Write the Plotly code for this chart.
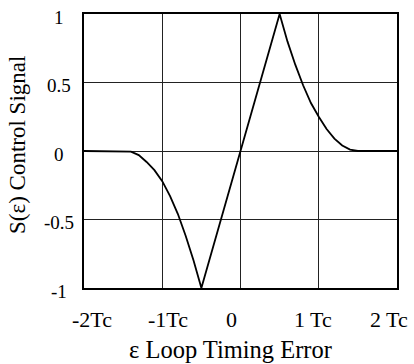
import plotly.graph_objects as go

# Loop timing error (in chip periods Tc) and discriminator output S(eps)
eps = [-2.0, -1.9, -1.8, -1.7, -1.6, -1.5, -1.4, -1.3, -1.2, -1.1, -1.0,
       -0.9, -0.8, -0.7, -0.6, -0.5, -0.4, -0.3, -0.2, -0.1, 0.0,
       0.1, 0.2, 0.3, 0.4, 0.5, 0.6, 0.7, 0.8, 0.9, 1.0,
       1.1, 1.2, 1.3, 1.4, 1.5, 1.6, 1.7, 1.8, 1.9, 2.0]
s_eps = [0.0, 0.0, 0.0, 0.0, 0.0, 0.0, -0.005, -0.03, -0.08, -0.14, -0.22,
         -0.33, -0.46, -0.62, -0.80, -1.0, -0.8, -0.6, -0.4, -0.2, 0.0,
         0.2, 0.4, 0.6, 0.8, 1.0, 0.80, 0.63, 0.48, 0.35, 0.25,
         0.16, 0.09, 0.04, 0.01, 0.0, 0.0, 0.0, 0.0, 0.0, 0.0]

# grid positions
x_grid = [-2, -1, 0, 1, 2]
y_grid = [-1, -0.5, 0, 0.5, 1]

# tick labels and where they sit
x_tick_text = ["-2Tc", "-1Tc", "0", "1 Tc", "2 Tc"]
x_tick_pos = [-1.90, -0.93, -0.11, 0.93, 1.90]
y_tick_text = ["-1", "-0.5", "0", "0.5", "1"]
y_tick_pos = [-1, -0.5, 0, 0.5, 1]

FONT = "Liberation Serif, Times New Roman, serif"

fig = go.Figure()
fig.add_trace(go.Scatter(x=eps, y=s_eps, mode="lines",
                         line=dict(color="black", width=1.8),
                         hoverinfo="skip", showlegend=False))

annotations = []
for t, p in zip(x_tick_text, x_tick_pos):
    annotations.append(dict(x=p, y=-0.116, xref="x", yref="paper", text=t,
                            showarrow=False, xanchor="center", yanchor="middle",
                            font=dict(family=FONT, size=22, color="black")))
for t, p in zip(y_tick_text, y_tick_pos):
    annotations.append(dict(x=-0.08, y=p, xref="paper", yref="y", text=t,
                            showarrow=False, xanchor="center", yanchor="middle",
                            yshift=-3,
                            font=dict(family=FONT, size=19, color="black")))
annotations.append(dict(x=0.468, y=-0.225, xref="paper", yref="paper",
                        text="ε Loop Timing Error", showarrow=False,
                        xanchor="center", yanchor="middle",
                        font=dict(family=FONT, size=24.5, color="black")))
annotations.append(dict(x=-0.211, y=0.522, xref="paper", yref="paper",
                        text="S(ε) Control Signal", showarrow=False, textangle=-90,
                        xanchor="center", yanchor="middle",
                        font=dict(family=FONT, size=23, color="black")))

fig.update_layout(
    width=414, height=364, autosize=False,
    margin=dict(l=84, r=17, t=12, b=76, pad=0),
    paper_bgcolor="white", plot_bgcolor="white",
    showlegend=False,
    annotations=annotations,
    xaxis=dict(range=[-2, 2], tickvals=x_grid, showticklabels=False, ticks="",
               showgrid=True, gridcolor="#222", gridwidth=1, zeroline=False,
               showline=True, mirror=True, linecolor="black", linewidth=1.6,
               fixedrange=True),
    yaxis=dict(range=[-1, 1], tickvals=y_grid, showticklabels=False, ticks="",
               showgrid=True, gridcolor="#222", gridwidth=1, zeroline=False,
               showline=True, mirror=True, linecolor="black", linewidth=1.6,
               fixedrange=True),
)

fig.write_html("out.html",
               config={"displayModeBar": False, "staticPlot": True},
               post_script="document.body.style.margin='0px';document.body.style.padding='0px';document.body.style.overflow='hidden';")
